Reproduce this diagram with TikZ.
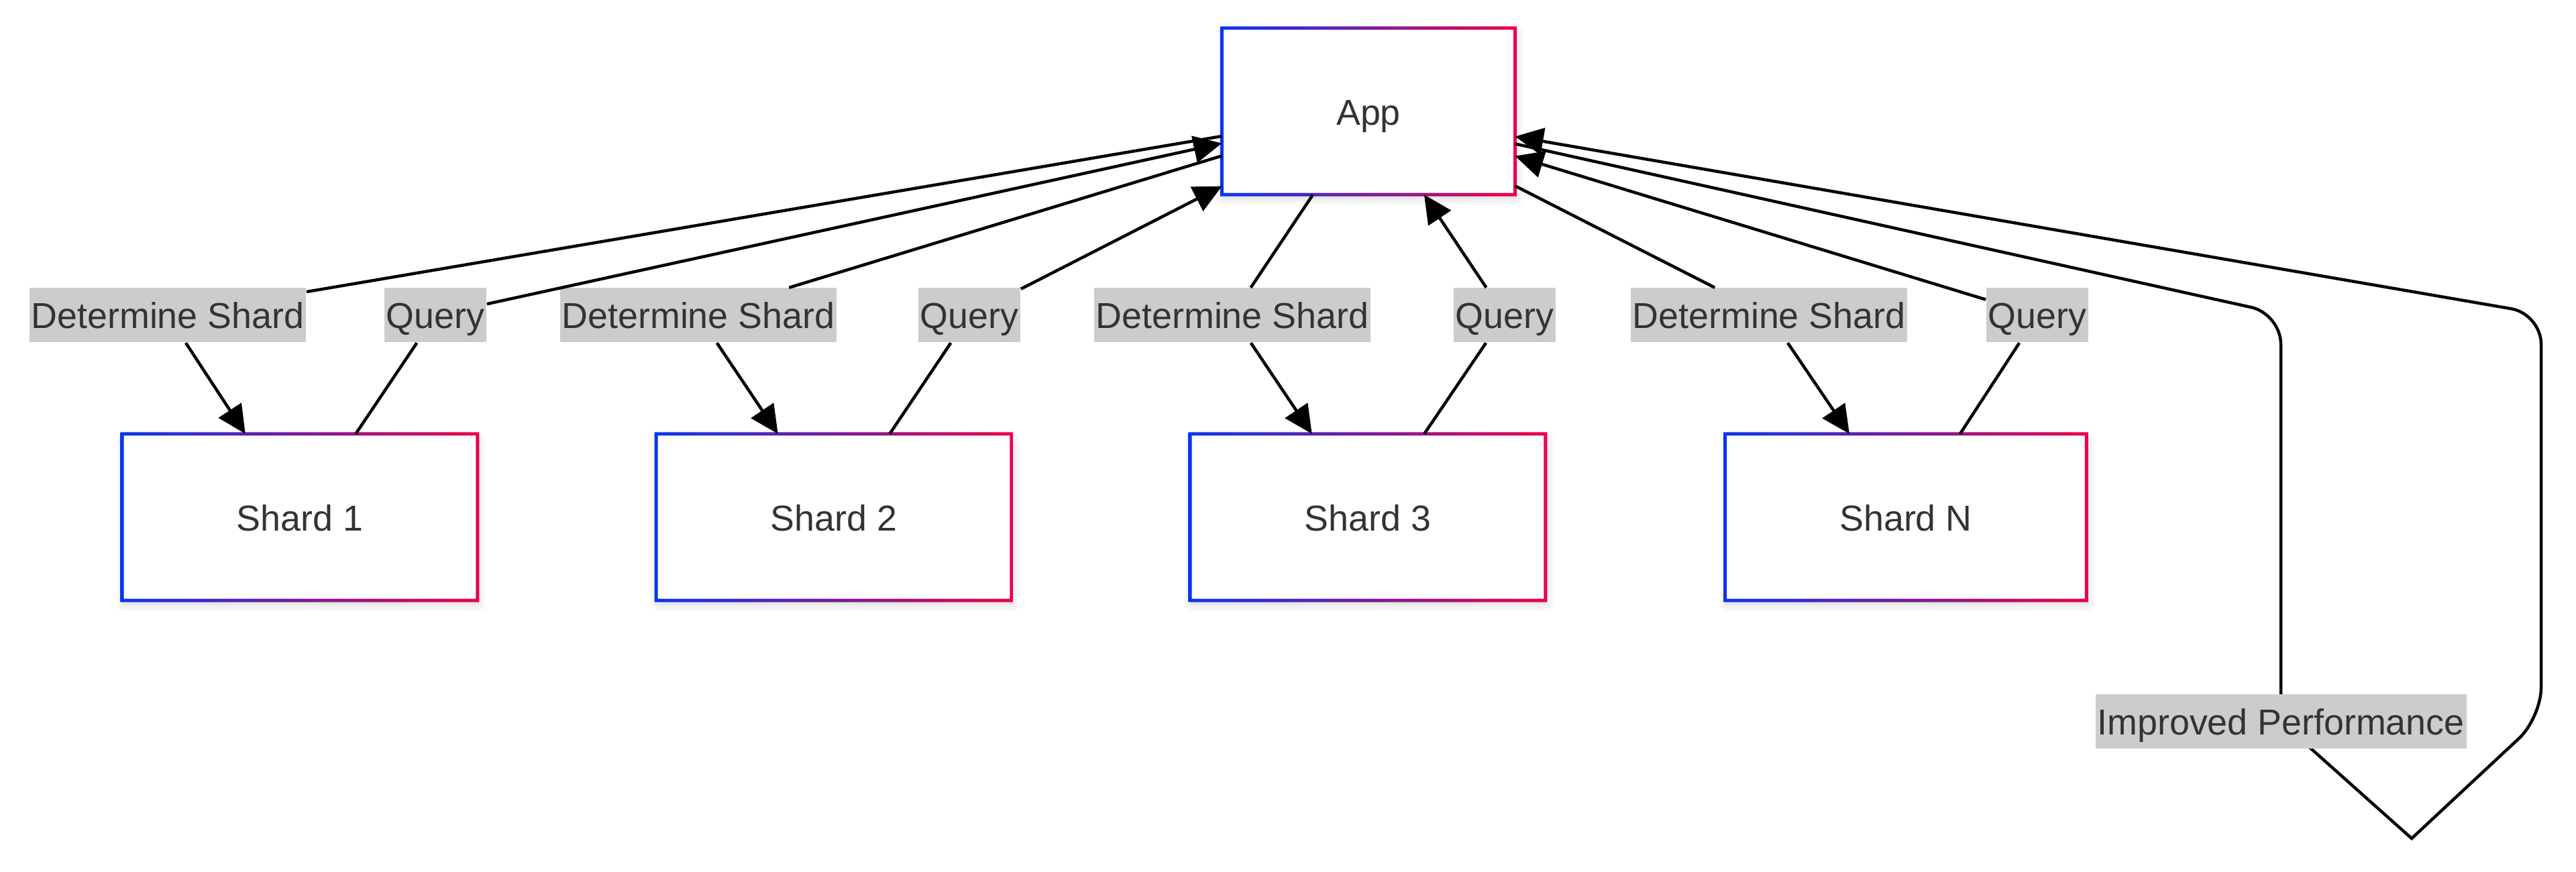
\documentclass[tikz,border=0pt]{standalone}
\usepackage{fontspec}
\setmainfont{Liberation Sans}
\usetikzlibrary{arrows.meta,shadows.blur}
\definecolor{boxblue}{RGB}{8,52,240}
\definecolor{boxred}{RGB}{236,0,72}
\definecolor{lblgray}{RGB}{204,204,204}
\definecolor{txt}{RGB}{51,51,51}
\newcommand{\lab}{\fontsize{15.3pt}{18pt}\selectfont}
\tikzset{
	box/.style={rectangle, fill=white, inner xsep=1.7cm, minimum height=2.47cm, text=txt, font=\lab,
		text height=0.52cm, text depth=0.11cm,
		blur shadow={shadow xshift=0.02cm, shadow yshift=-0.06cm, shadow blur radius=0.12cm, shadow opacity=18}},
	lbl/.style={rectangle, fill=lblgray, inner xsep=0.03cm, inner ysep=0pt, minimum height=0.81cm, text=txt, font=\lab,
		text height=0.50cm, text depth=0.11cm},
	link/.style={line width=0.045cm, -{Triangle[length=0.42cm, width=0.40cm]}}
}
\begin{document}
\begin{tikzpicture}
			\useasboundingbox (0,0) rectangle (38.4,13);
			\node[box] (app) at (20.40, 11.34) {App};
			\node[box] (s1)  at (4.47,  5.29)  {Shard 1};
			\node[box] (s2)  at (12.43, 5.29)  {Shard 2};
			\node[box] (s3)  at (20.39, 5.29)  {Shard 3};
			\node[box] (sN)  at (28.41, 5.29)  {Shard N};
			
			\node[lbl] (d1) at (2.50,  8.30) {Determine Shard};
			\node[lbl] (q1) at (6.49,  8.30) {Query};
			\node[lbl] (d2) at (10.41, 8.30) {Determine Shard};
			\node[lbl] (q2) at (14.45, 8.30) {Query};
			\node[lbl] (d3) at (18.37, 8.30) {Determine Shard};
			\node[lbl] (q3) at (22.43, 8.30) {Query};
			\node[lbl] (dN) at (26.37, 8.30) {Determine Shard};
			\node[lbl] (qN) at (30.37, 8.30) {Query};
			
			% gradient borders
			\foreach \n in {app,s1,s2,s3,sN}
			{	\shade[left color=boxblue, right color=boxred, even odd rule]
				([shift={(-0.025,-0.025)}]\n.south west) rectangle ([shift={(0.025,0.025)}]\n.north east)
				([shift={(0.025,0.025)}]\n.south west) rectangle ([shift={(-0.025,-0.025)}]\n.north east);
			}
			
			\def\list {app/d1/s1, s1/q1/app, app/d2/s2, s2/q2/app, app/d3/s3, s3/q3/app,
			app/dN/sN, sN/qN/app}  % list elements
			\foreach \u\m\v in \list
			{	\draw[link] (\u) -- (\m) -- (\v);
			}
			
			% self loop
			\coordinate (ipos) at (34.00, 2.24);
			\draw[link, rounded corners=0.45cm] (app) -- (34.00, 8.32) -- (ipos) [sharp corners] -- (35.95, 0.50)
				[rounded corners=0.45cm] -- (37.88, 2.30) -- (37.88, 8.32) -- (app);
			\node[lbl] (ip) at (ipos) {Improved Performance};
\end{tikzpicture}
\end{document}
